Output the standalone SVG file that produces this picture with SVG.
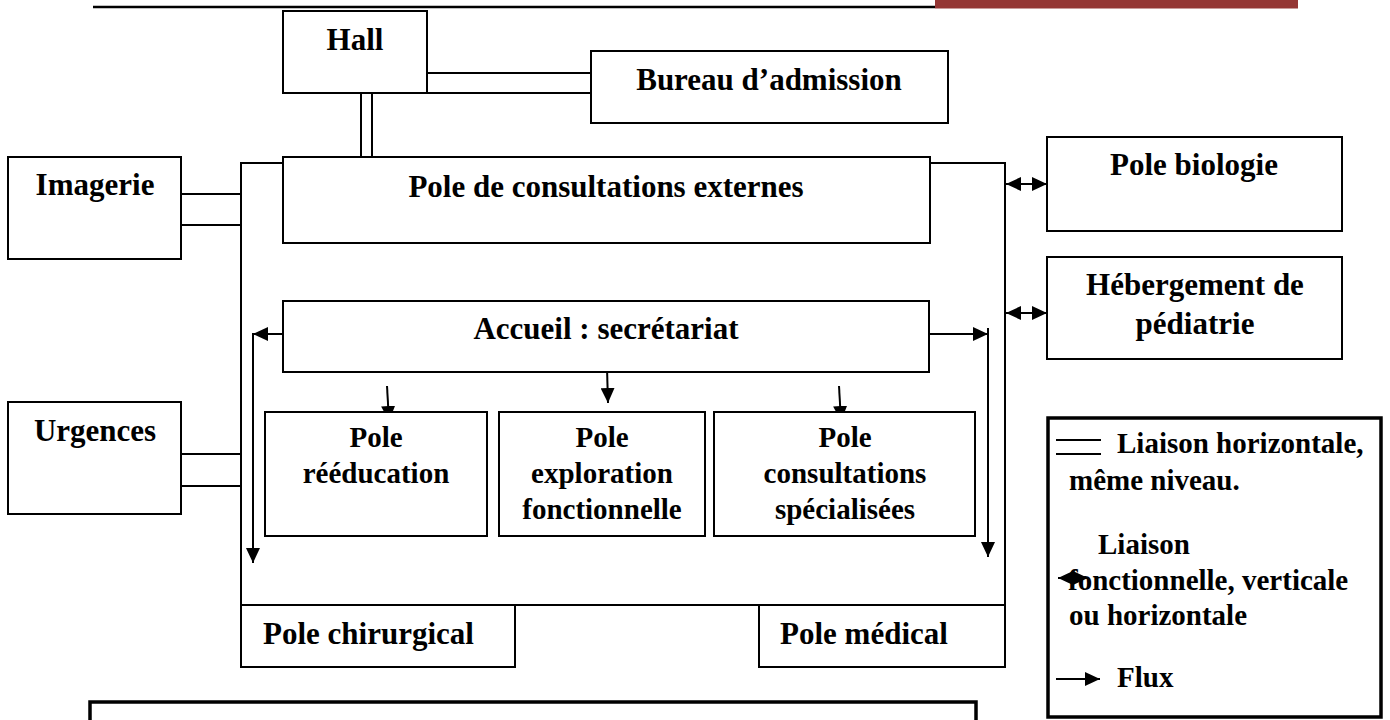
<svg xmlns="http://www.w3.org/2000/svg" width="1390" height="720" viewBox="0 0 1390 720">
<defs>
<style>
.box{fill:#fff;stroke:#000;stroke-width:2}
.ln{fill:none;stroke:#000;stroke-width:2}
.thick{fill:none;stroke:#000;stroke-width:3.5}
text{font-family:"Liberation Serif","DejaVu Serif",serif;font-weight:bold;fill:#000}
.t31{font-size:31px}
.t29{font-size:29px}
.c{text-anchor:middle}
.arr{fill:none;stroke:#000;stroke-width:2;marker-end:url(#ah)}
.dbl{fill:none;stroke:#000;stroke-width:2;marker-start:url(#ah);marker-end:url(#ah)}
</style>
<marker id="ah" viewBox="0 0 15 14" refX="15" refY="7" markerWidth="15" markerHeight="14" orient="auto-start-reverse" markerUnits="userSpaceOnUse">
<path d="M0,0 L15,7 L0,14 z" fill="#000"/>
</marker>
</defs>
<rect width="1390" height="720" fill="#fff"/>
<g id="header">
<line x1="93" y1="7" x2="935" y2="7" stroke="#000" stroke-width="2.5"/>
<rect x="935" y="0" width="363" height="8.5" fill="#943634"/>
</g>
<g id="connectors">
<line class="ln" x1="427" y1="73" x2="591" y2="73"/>
<line class="ln" x1="427" y1="93" x2="591" y2="93"/>
<line class="ln" x1="361" y1="87" x2="361" y2="157"/>
<line class="ln" x1="372" y1="87" x2="372" y2="157"/>
<line class="ln" x1="181" y1="194" x2="241" y2="194"/>
<line class="ln" x1="181" y1="225" x2="241" y2="225"/>
<line class="ln" x1="181" y1="454" x2="241" y2="454"/>
<line class="ln" x1="181" y1="486" x2="241" y2="486"/>
<path class="dbl" d="M1006,184 L1047,184"/>
<path class="dbl" d="M1006,313 L1047,313"/>
<path class="arr" d="M283,334 L253,334"/>
<path class="arr" d="M253,333 L253,563"/>
<path class="arr" d="M929,334 L988,334"/>
<path class="arr" d="M988,328 L988,557"/>
<path class="arr" d="M387,386 L389,421"/>
<path class="arr" d="M607,368 L608,403"/>
<path class="arr" d="M839,386 L841,421"/>
</g>
<g id="outer-block">
<path class="ln" d="M283,163 L241,163 L241,667 M929,163 L1005,163 L1005,667 M241,605 L1005,605"/>
</g>
<g id="hall">
<rect class="box" x="283" y="11" width="144" height="82"/>
<text class="t31 c" x="355" y="50">Hall</text>
</g>
<g id="bureau-admission">
<rect class="box" x="591" y="51" width="357" height="72"/>
<text class="t31 c" x="769" y="90">Bureau d’admission</text>
</g>
<g id="imagerie">
<rect class="box" x="8" y="157" width="173" height="102"/>
<text class="t31 c" x="95" y="195">Imagerie</text>
</g>
<g id="urgences">
<rect class="box" x="8" y="402" width="173" height="112"/>
<text class="t31 c" x="95" y="441">Urgences</text>
</g>
<g id="pole-consultations-externes">
<rect class="box" x="283" y="157" width="647" height="86"/>
<text class="t31 c" x="606" y="197">Pole de consultations externes</text>
</g>
<g id="pole-biologie">
<rect class="box" x="1047" y="137" width="295" height="94"/>
<text class="t31 c" x="1194" y="175">Pole biologie</text>
</g>
<g id="hebergement-pediatrie">
<rect class="box" x="1047" y="257" width="295" height="102"/>
<text class="t31 c" x="1195" y="295">Hébergement de</text>
<text class="t31 c" x="1195" y="334">pédiatrie</text>
</g>
<g id="accueil">
<rect class="box" x="283" y="301" width="646" height="71"/>
<text class="t31 c" x="606" y="339">Accueil : secrétariat</text>
</g>
<g id="pole-reeducation">
<rect class="box" x="265" y="412" width="222" height="124"/>
<text class="t29 c" x="376" y="447">Pole</text>
<text class="t29 c" x="376" y="483">rééducation</text>
</g>
<g id="pole-exploration">
<rect class="box" x="499" y="412" width="206" height="124"/>
<text class="t29 c" x="602" y="447">Pole</text>
<text class="t29 c" x="602" y="483">exploration</text>
<text class="t29 c" x="602" y="519">fonctionnelle</text>
</g>
<g id="pole-consultations-specialisees">
<rect class="box" x="714" y="412" width="261" height="124"/>
<text class="t29 c" x="845" y="447">Pole</text>
<text class="t29 c" x="845" y="483">consultations</text>
<text class="t29 c" x="845" y="519">spécialisées</text>
</g>
<g id="pole-chirurgical">
<rect class="box" x="241" y="605" width="274" height="62"/>
<text class="t31" x="263" y="644">Pole chirurgical</text>
</g>
<g id="pole-medical">
<rect class="box" x="759" y="605" width="246" height="62"/>
<text class="t31" x="780" y="644">Pole médical</text>
</g>
<g id="legend">
<rect class="thick" x="1048" y="418" width="333" height="299" fill="#fff"/>
<line class="ln" x1="1056" y1="440" x2="1101" y2="440"/>
<line class="ln" x1="1056" y1="454" x2="1101" y2="454"/>
<text class="t29" x="1117" y="453">Liaison horizontale,</text>
<text class="t29" x="1069" y="490">même niveau.</text>
<text class="t29" x="1098" y="554">Liaison</text>
<text class="t29" x="1068" y="590">fonctionnelle, verticale</text>
<path class="dbl" d="M1058,578 L1088,578"/>
<text class="t29" x="1069" y="625">ou horizontale</text>
<path class="arr" d="M1056,679 L1100,679"/>
<text class="t29" x="1117" y="687">Flux</text>
</g>
<g id="bottom-frame">
<rect class="thick" x="90" y="702" width="886" height="40"/>
</g>
</svg>
